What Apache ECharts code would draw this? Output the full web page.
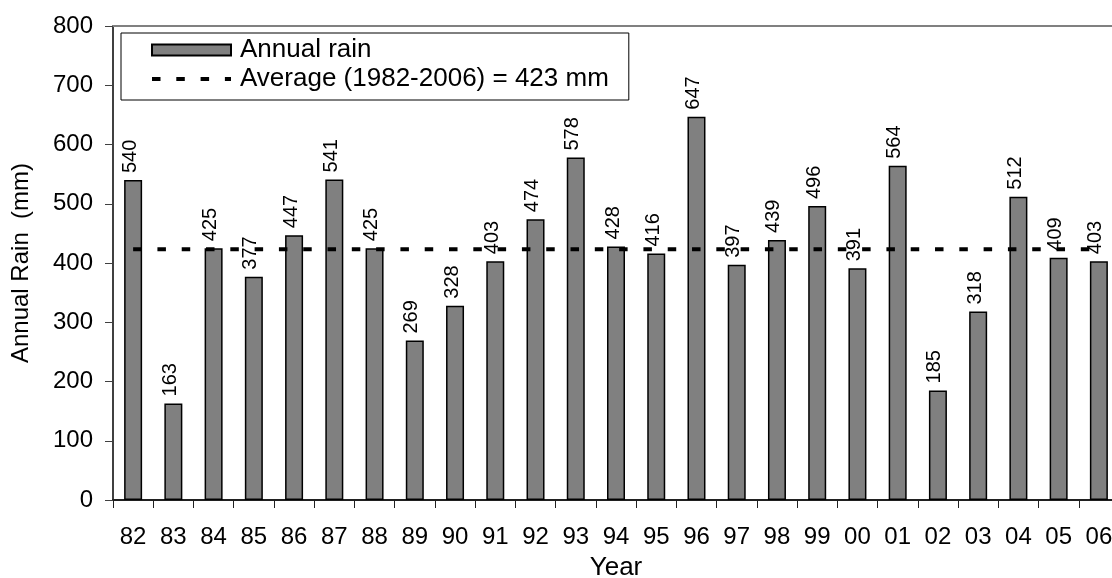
<!DOCTYPE html>
<html>
<head>
<meta charset="utf-8">
<script src="https://cdn.jsdelivr.net/npm/echarts@6/dist/echarts.min.js"></script>
<style>html,body{margin:0;padding:0;background:#fff;overflow:hidden}#c{width:1120px;height:578px}</style>
</head>
<body>
<div id="c"></div>
<script>
const categories = ['82','83','84','85','86','87','88','89','90','91','92','93','94','95','96','97','98','99','00','01','02','03','04','05','06'];
const annualRain = [540,163,425,377,447,541,425,269,328,403,474,578,428,416,647,397,439,496,391,564,185,318,512,409,403];
const averageValue = 423;
const averageLine = categories.map(() => averageValue);
const yTicks = { min: 0, max: 800, interval: 100 };

const FONT = 'Liberation Sans, Arial, sans-serif';
const DASH = [8.5, 15.8];
const chart = echarts.init(document.getElementById('c'));
chart.setOption({
  animation: false,
  backgroundColor: '#fff',
  textStyle: { fontFamily: FONT },
  grid: { left: 113, top: 26, right: 1, bottom: 78, outerBoundsMode: 'none', containLabel: false },
  legend: {
    orient: 'vertical',
    left: 121, top: 33,
    backgroundColor: '#fff',
    borderColor: '#000', borderWidth: 1,
    padding: [4, 20, 8, 29],
    itemWidth: 79, itemHeight: 11, itemGap: 3,
    textStyle: { fontSize: 26, color: '#000', fontFamily: FONT, padding: [0, 0, 0, 4] },
    data: [
      { name: 'Annual rain', icon: 'rect' },
      { name: 'Average (1982-2006) = 423 mm', itemStyle: { opacity: 0 }, lineStyle: { width: 4, color: '#000', type: DASH } }
    ]
  },
  xAxis: [{
    type: 'category',
    data: categories,
    name: 'Year',
    nameLocation: 'middle',
    nameGap: 55,
    nameTextStyle: { fontSize: 26, color: '#000', fontFamily: FONT },
    axisLine: { lineStyle: { color: '#202020', width: 2 } },
    axisTick: { show: true, length: 8, lineStyle: { color: '#202020', width: 1 } },
    axisLabel: { fontSize: 24, color: '#000', margin: 25, fontFamily: FONT, interval: 0 }
  }, {
    type: 'category',
    data: categories,
    position: 'top',
    axisLine: { show: true, lineStyle: { color: '#808080', width: 2 } },
    axisTick: { show: false },
    axisLabel: { show: false }
  }],
  yAxis: {
    type: 'value',
    min: yTicks.min, max: yTicks.max, interval: yTicks.interval,
    name: 'Annual Rain  (mm)',
    nameLocation: 'middle',
    nameGap: 80,
    nameTextStyle: { fontSize: 24, color: '#000', fontFamily: FONT },
    axisLine: { show: true, lineStyle: { color: '#404040', width: 2 } },
    axisTick: { show: true, length: 8, lineStyle: { color: '#404040', width: 1 } },
    axisLabel: { fontSize: 24, color: '#000', margin: 20, fontFamily: FONT },
    splitLine: { show: false }
  },
  series: [{
    name: 'Annual rain',
    type: 'bar',
    data: annualRain,
    barWidth: 18,
    itemStyle: { color: '#808080', borderColor: '#000', borderWidth: 1.5 },
    label: {
      show: true,
      position: 'top',
      rotate: 90,
      align: 'left',
      verticalAlign: 'middle',
      distance: 7,
      offset: [0, -3],
      fontSize: 20,
      color: '#000',
      fontFamily: FONT
    },
    z: 2
  }, {
    name: 'Average (1982-2006) = 423 mm',
    type: 'line',
    data: averageLine,
    symbol: 'none',
    lineStyle: { color: '#000', width: 4, type: DASH },
    itemStyle: { color: '#000' },
    z: 3
  }]
});
</script>
</body>
</html>
